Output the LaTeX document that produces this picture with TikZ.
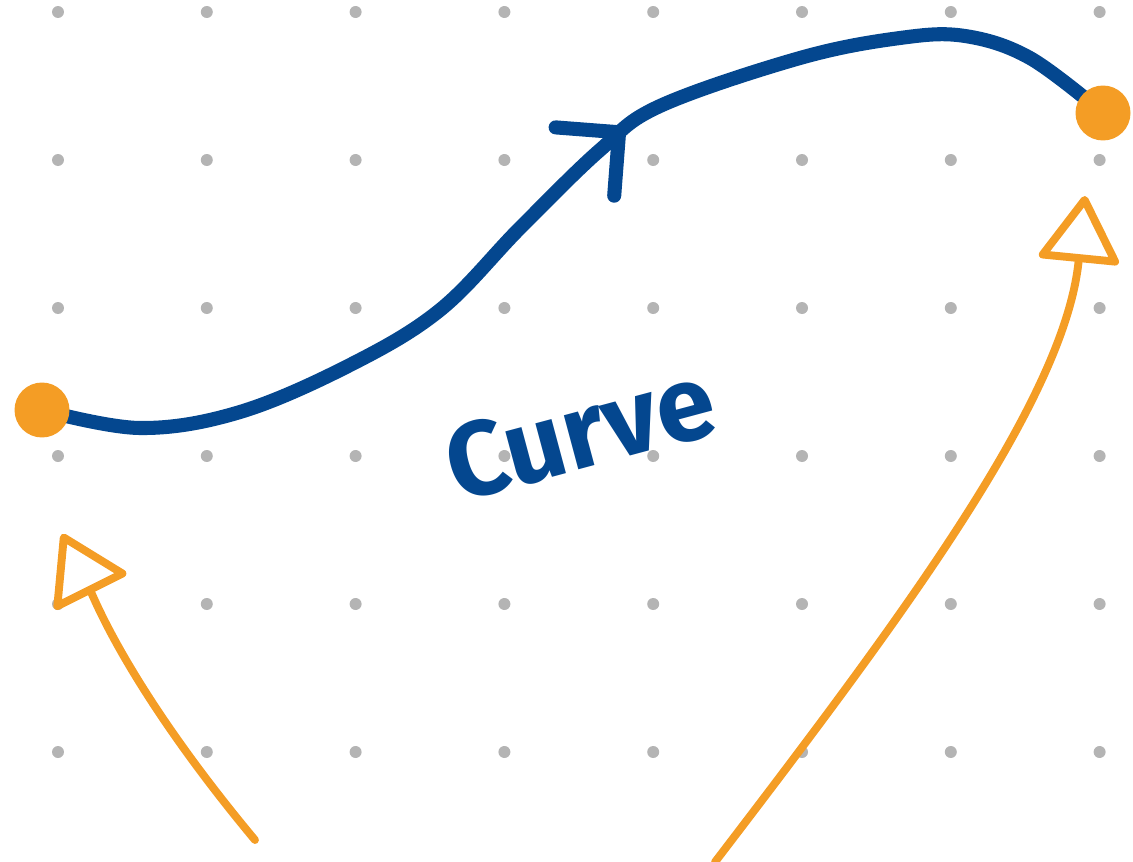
\documentclass[tikz,border=0pt]{standalone}
\usepackage{fontspec}
\setsansfont{Fira Sans}
\usetikzlibrary{arrows.meta, positioning, decorations.markings, backgrounds}
\definecolor{inkblue}{RGB}{4, 71, 143}
\definecolor{inkorange}{RGB}{244, 157, 37}
\definecolor{dotgray}{RGB}{180, 180, 180}
\tikzset{
  endpoint/.style={
    circle,
    fill=inkorange,
    minimum size=1.1cm,
    inner sep=0pt
  },
  curve line/.style={
    draw=inkblue,
    line width=8pt,
    line cap=round,
    line join=round,
    postaction={decorate},
    decoration={markings,
      mark=at position 0.57 with {\arrow{Straight Barb[length=0.9cm, width=1.8cm, line width=8pt, round]}}}
  },
  vector line/.style={
    draw=inkorange,
    line width=4.5pt,
    line cap=round,
    -{Triangle[open, length=1.4cm, width=1.7cm, line width=4.5pt, round]}
  },
  label text/.style={
    font=\sffamily\bfseries\fontsize{60}{66}\selectfont,
    text=inkblue,
    rotate=15
  }
}

\begin{document}
\begin{tikzpicture}[x=0.02cm, y=-0.02cm]
          \useasboundingbox (0,0) rectangle (1133,862);
          \node[endpoint] (start) at (42,410) {};
          \node[endpoint] (finish) at (1103,113) {};
          \node[label text] (name) at (580,432) {Curve};
          \coordinate (tail1) at (255,840);
          \coordinate (tip1) at (62,534);
          \coordinate (tail2) at (715,862);
          \coordinate (tip2) at (1085,196);

          \begin{scope}[on background layer]
            \foreach \i in {0,...,7}
              \foreach \j in {0,...,5}
                \fill[dotgray] ({58+148.8*\i},{12+148*\j}) circle (0.12cm);
            \draw[curve line] plot[smooth, tension=0.6] coordinates {
              (start.center) (140,428) (240,412) (350,365) (440,310) (520,228)
              (600,150) (660,106) (800,58) (900,38) (965,36) (1030,58) (finish.center)};
          \end{scope}

          \draw[vector line] (tail1) .. controls (130,690) and (95,600) .. (tip1);
          \draw[vector line] (tail2) .. controls (900,620) and (1065,400) .. (tip2);
        \end{tikzpicture}
\end{document}
